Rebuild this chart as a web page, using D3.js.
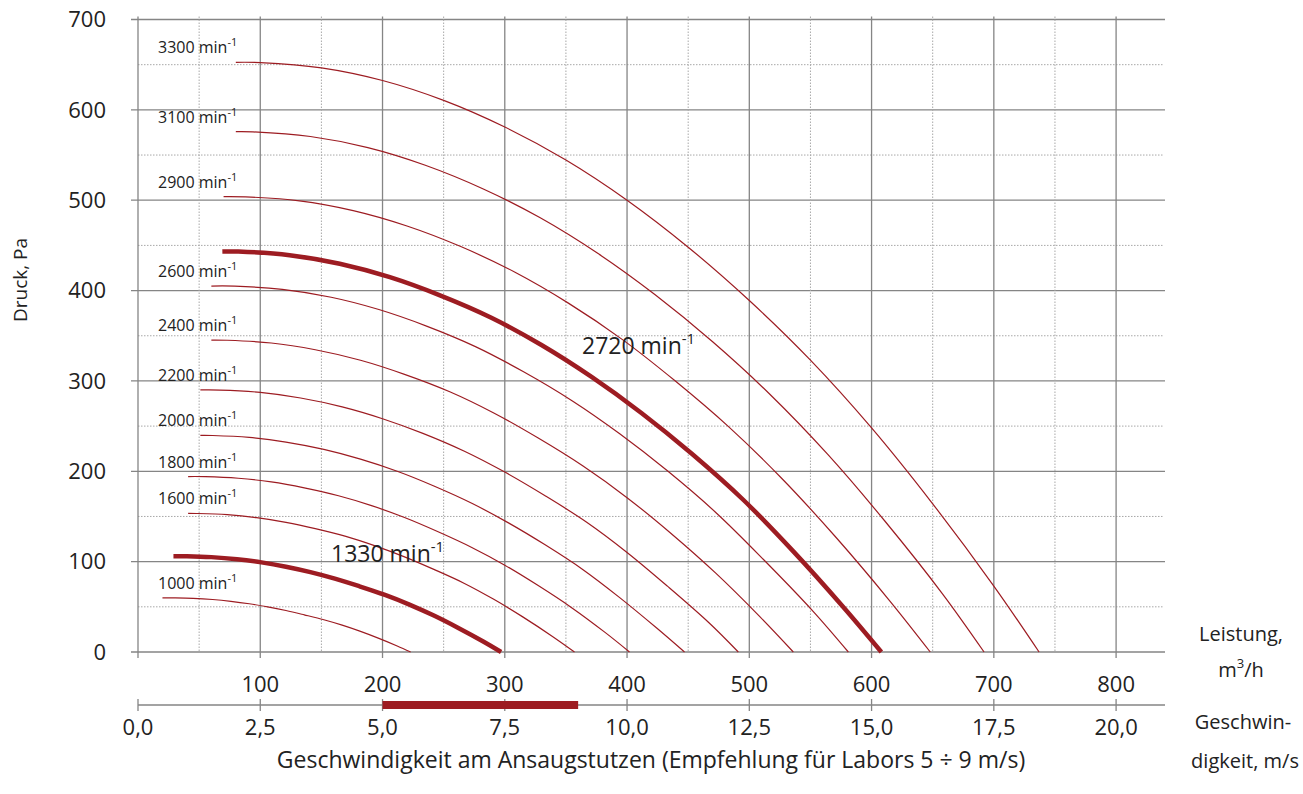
<!DOCTYPE html>
<html><head><meta charset="utf-8">
<script src="https://cdn.jsdelivr.net/npm/d3@7"></script>
<style>
body{margin:0;background:#fff}
svg{display:block}
text{font-family:"Open Sans",sans-serif;fill:#222}
</style>
</head><body>
<svg id="chart" width="1303" height="794"></svg>
<script>
// ---- data (flow m3/h, pressure Pa) ----
const rpm3300 = [[80,652.6],[100,652.3],[150,646.5],[200,632.5],[250,610.5],[300,581],[350,544.5],[400,500],[450,448],[500,389],[550,323],[600,248],[650,164],[700,73],[737,0]];
const rpm3100 = [[80,575.8],[94,575.6],[141,570.5],[188,558.2],[235,538.7],[282,512.7],[329,480.5],[376,441.2],[423,395.3],[470,343.3],[517,285],[564,218.9],[611,144.7],[658,64.4],[692,0]];
const rpm2900 = [[70,504],[88,503.7],[132,499.3],[176,488.5],[220,471.5],[264,448.7],[308,420.5],[352,386.1],[396,346],[439,300.4],[483,249.4],[527,191.5],[571,126.7],[615,56.4],[648,0]];
const rpm2720 = [[69,443.3],[82,443.2],[124,439.2],[165,429.7],[206,414.8],[247,394.7],[289,369.9],[330,339.7],[371,304.4],[412,264.3],[453,219.4],[495,168.5],[536,111.4],[577,49.6],[608,0]];
const rpm2600 = [[60,405],[79,404.9],[118,401.3],[158,392.6],[197,379],[236,360.7],[276,338],[315,310.4],[355,278.1],[394,241.5],[433,200.5],[473,153.9],[512,101.8],[552,45.3],[581,0]];
const rpm2400 = [[60,345.2],[73,345],[109,342],[145,334.5],[182,322.9],[218,307.3],[255,288],[291,264.5],[327,237],[364,205.8],[400,170.8],[436,131.2],[473,86.7],[509,38.6],[536,0]];
const rpm2200 = [[51,290],[67,289.9],[100,287.3],[133,281.1],[167,271.3],[200,258.2],[233,242],[267,222.2],[300,199.1],[333,172.9],[367,143.6],[400,110.2],[433,72.9],[467,32.4],[491,0]];
const rpm2000 = [[51,239.7],[61,239.6],[91,237.5],[121,232.3],[152,224.2],[182,213.4],[212,200],[242,183.7],[273,164.6],[303,142.9],[333,118.6],[364,91.1],[394,60.2],[424,26.8],[447,0]];
const rpm1800 = [[41,194.2],[55,194.1],[82,192.3],[109,188.2],[136,181.6],[164,172.9],[191,162],[218,148.8],[245,133.3],[273,115.7],[300,96.1],[327,73.8],[355,48.8],[382,21.7],[402,0]];
const rpm1600 = [[41,153.4],[48,153.3],[73,152],[97,148.7],[121,143.5],[145,136.6],[170,128],[194,117.5],[218,105.3],[242,91.4],[267,75.9],[291,58.3],[315,38.6],[339,17.2],[357,0]];
const rpm1330 = [[29,106.1],[40,106],[60,105],[81,102.7],[101,99.2],[121,94.4],[141,88.4],[161,81.2],[181,72.8],[202,63.2],[222,52.5],[242,40.3],[262,26.6],[282,11.9],[297,0]];
const rpm1000 = [[20,60],[30,59.9],[45,59.4],[61,58.1],[76,56.1],[91,53.4],[106,50],[121,45.9],[136,41.1],[152,35.7],[167,29.7],[182,22.8],[197,15.1],[212,6.7],[223,0]];

const speeds = [3300,3100,2900,2720,2600,2400,2200,2000,1800,1600,1330,1000];
const curves = [rpm3300,rpm3100,rpm2900,rpm2720,rpm2600,rpm2400,rpm2200,rpm2000,rpm1800,rpm1600,rpm1330,rpm1000];
const highlighted = [2720,1330];

const flowTicks = [100,200,300,400,500,600,700,800];
const pressureTicks = [0,100,200,300,400,500,600,700];
const velocityTicks = [0,2.5,5,7.5,10,12.5,15,17.5,20];
const velocityLabels = ["0,0","2,5","5,0","7,5","10,0","12,5","15,0","17,5","20,0"];
const recommendedVelocity = [5,9];

// ---- layout ----
const svg = d3.select("#chart");
const x = d3.scaleLinear().domain([0,840]).range([138,1165]);
const y = d3.scaleLinear().domain([0,700]).range([652,19.5]);
const v = d3.scaleLinear().domain([0,21]).range([138,1165]);
const red = "#9d1c22";
const gridCol = "#858585";
const dotCol = "#a8a8a8";

const grid = svg.append("g");
d3.range(0,701,50).forEach(p=>{
  const major = p%100===0;
  grid.append("line")
    .attr("x1", major?131:x(0)).attr("x2", major?x(840):x(840)-2)
    .attr("y1", y(p)).attr("y2", y(p))
    .attr("stroke", major?gridCol:dotCol)
    .attr("stroke-width", major?1.3:1)
    .attr("stroke-dasharray", major?null:"1.5,1.5");
});
d3.range(0,801,50).forEach(q=>{
  const major = q%100===0;
  grid.append("line")
    .attr("x1", x(q)).attr("x2", x(q))
    .attr("y1", y(700)-3).attr("y2", major?y(0)+6:y(0))
    .attr("stroke", major?gridCol:dotCol)
    .attr("stroke-width", major?1.3:1)
    .attr("stroke-dasharray", major?null:"1.5,1.5");
});

svg.append("g").selectAll("text").data(pressureTicks).join("text")
  .attr("x",106).attr("y",d=>y(d)).attr("dy","0.35em")
  .attr("text-anchor","end").attr("font-size",22).text(d=>d);

svg.append("g").selectAll("text").data(flowTicks).join("text")
  .attr("x",d=>x(d)).attr("y",692).attr("text-anchor","middle")
  .attr("font-size",22).text(d=>d);

const vAxisY = 705;
svg.append("line").attr("x1",v(0)).attr("x2",v(21)).attr("y1",vAxisY).attr("y2",vAxisY)
  .attr("stroke",gridCol).attr("stroke-width",1.3);
svg.append("g").selectAll("line").data(velocityTicks).join("line")
  .attr("x1",d=>v(d)).attr("x2",d=>v(d)).attr("y1",vAxisY-6).attr("y2",vAxisY+6)
  .attr("stroke",gridCol).attr("stroke-width",1.3);
svg.append("rect").attr("x",v(recommendedVelocity[0])).attr("y",vAxisY-4)
  .attr("width",v(recommendedVelocity[1])-v(recommendedVelocity[0])).attr("height",8)
  .attr("fill",red);
svg.append("g").selectAll("text").data(velocityTicks).join("text")
  .attr("x",d=>v(d)).attr("y",735).attr("text-anchor","middle")
  .attr("font-size",22).text((d,i)=>velocityLabels[i]);

const line = d3.line().x(d=>x(d[0])).y(d=>y(d[1])).curve(d3.curveCatmullRom.alpha(0.5));
curves.forEach((c,i)=>{
  const thick = highlighted.includes(speeds[i]);
  svg.append("path").attr("d",line(c)).attr("fill","none")
    .attr("stroke",red).attr("stroke-width",thick?4.5:1.2)
    .attr("stroke-linecap","butt");
});

function rpmLabel(g, xx, yy, n, fs, supFs, rise){
  const t = g.append("text").attr("x",xx).attr("y",yy).attr("font-size",fs);
  t.append("tspan").text(n+" min");
  t.append("tspan").attr("font-size",supFs).attr("dy",-rise).text("-1");
}
const lg = svg.append("g");
curves.forEach((c,i)=>{
  if(highlighted.includes(speeds[i])) return;
  rpmLabel(lg, 158, y(c[0][1])-9, speeds[i], 16, 11, 7);
});
rpmLabel(lg, 582, 354, 2720, 23, 15, 10);
rpmLabel(lg, 331, 562, 1330, 23, 15, 10);

svg.append("text").attr("transform","translate(27,280) rotate(-90)")
  .attr("text-anchor","middle").attr("font-size",19).text("Druck, Pa");
svg.append("text").attr("x",651).attr("y",768).attr("text-anchor","middle")
  .attr("font-size",23).text("Geschwindigkeit am Ansaugstutzen (Empfehlung für Labors 5 ÷ 9 m/s)");
svg.append("text").attr("x",1241).attr("y",641).attr("text-anchor","middle")
  .attr("font-size",20).text("Leistung,");
const mt = svg.append("text").attr("x",1241).attr("y",677).attr("text-anchor","middle").attr("font-size",20);
mt.append("tspan").text("m");
mt.append("tspan").attr("font-size",13).attr("dy",-9).text("3");
mt.append("tspan").attr("dy",9).text("/h");
svg.append("text").attr("x",1243).attr("y",729).attr("text-anchor","middle")
  .attr("font-size",20).text("Geschwin-");
svg.append("text").attr("x",1245).attr("y",768).attr("text-anchor","middle")
  .attr("font-size",20).text("digkeit, m/s");
</script>
</body></html>
